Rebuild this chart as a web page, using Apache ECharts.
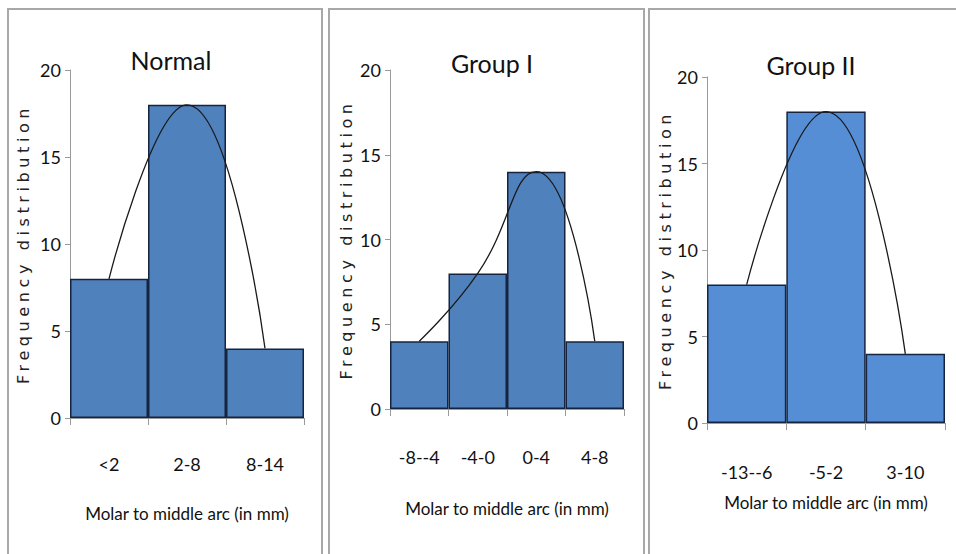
<!DOCTYPE html>
<html>
<head>
<meta charset="utf-8">
<script src="https://cdn.jsdelivr.net/npm/echarts@6/dist/echarts.min.js"></script>
<style>
html,body{margin:0;padding:0;background:#fff;}
#c{width:956px;height:554px;}
</style>
</head>
<body>
<div id="c"></div>
<script>
// ---- data ----
const panelTitles = ['Normal', 'Group I', 'Group II'];
const normalCats = ['<2', '2-8', '8-14'];
const normalVals = [8, 18, 4];
const group1Cats = ['-8--4', '-4-0', '0-4', '4-8'];
const group1Vals = [4, 8, 14, 4];
const group2Cats = ['-13--6', '-5-2', '3-10'];
const group2Vals = [8, 18, 4];
const yTicks = [0, 5, 10, 15, 20];
const xName = 'Molar to middle arc (in mm)';
const yName = 'Frequency distribution';

// ---- layout / style ----
const narrow = 'Lato, "Liberation Sans", Arial, sans-serif';
const grids = [
  {left: 70, top: 70, width: 234, height: 348},
  {left: 390, top: 70, width: 234, height: 339},
  {left: 707, top: 77, width: 238, height: 346}
];
const cats = [normalCats, group1Cats, group2Cats];
const vals = [normalVals, group1Vals, group2Vals];
const barColors = ['#4f81bd', '#4f81bd', '#558ed5'];
const titleX = [166, 487, 806];
const titleTop = [42, 45, 47];
const xLabelMargin = [37, 39, 40];
const xNameGap = [87, 91, 71];
const yNameGap = [39, 36, 31];

const option = {
  animation: false,
  backgroundColor: '#ffffff',
  title: panelTitles.map((t, i) => ({
    text: t, left: titleX[i], top: titleTop[i], textAlign: 'center',
    textStyle: {fontFamily: narrow, fontSize: 25, fontWeight: 'normal', color: '#111'}
  })),
  grid: grids,
  xAxis: cats.map((c, i) => ({
    type: 'category', gridIndex: i, data: c,
    axisLine: {lineStyle: {color: '#9a9a9a', width: 1}},
    axisTick: {show: true, length: 7, lineStyle: {color: '#9a9a9a'}},
    axisLabel: {color: '#111', fontFamily: narrow, fontSize: 18, margin: xLabelMargin[i]},
    name: xName, nameLocation: 'middle', nameGap: xNameGap[i],
    nameTextStyle: {color: '#111', fontFamily: narrow, fontSize: 17}
  })),
  yAxis: cats.map((c, i) => ({
    type: 'value', gridIndex: i, min: yTicks[0], max: yTicks[yTicks.length - 1], interval: 5,
    axisLine: {show: true, lineStyle: {color: '#9a9a9a', width: 1}},
    axisTick: {show: true, length: 5, lineStyle: {color: '#9a9a9a'}},
    splitLine: {show: false},
    axisLabel: {color: '#111', fontFamily: narrow, fontSize: 18, margin: 9},
    name: yName, nameLocation: 'middle', nameGap: yNameGap[i],
    nameTextStyle: {color: '#222', fontFamily: '"DejaVu Sans", Verdana, sans-serif', fontSize: 16}
  })),
  series: [].concat(
    vals.map((v, i) => ({
      type: 'bar', xAxisIndex: i, yAxisIndex: i, data: v,
      barCategoryGap: '0%',
      itemStyle: {color: barColors[i], borderColor: '#16243f', borderWidth: 1.5},
      z: 2
    })),
    vals.map((v, i) => ({
      type: 'line', xAxisIndex: i, yAxisIndex: i, data: v,
      smooth: 0.5, symbol: 'none',
      lineStyle: {color: '#1a1a1a', width: 1.3},
      z: 5
    }))
  ),
  graphic: [
    {type: 'rect', shape: {x: 8, y: 9, width: 314, height: 560}, style: {fill: 'none', stroke: '#a8a8a8', lineWidth: 2}, silent: true},
    {type: 'rect', shape: {x: 329, y: 9, width: 315, height: 560}, style: {fill: 'none', stroke: '#a8a8a8', lineWidth: 2}, silent: true},
    {type: 'rect', shape: {x: 649, y: 9, width: 320, height: 560}, style: {fill: 'none', stroke: '#a8a8a8', lineWidth: 2}, silent: true}
  ]
};

const chart = echarts.init(document.getElementById('c'), null, {renderer: 'svg'});
chart.setOption(option);

// widen letter spacing of the rotated y-axis titles (as in the original)
function spaceYNames() {
  document.querySelectorAll('#c svg text').forEach(t => {
    if (t.textContent === yName) {
      t.setAttribute('letter-spacing', '4.6');
      t.style.letterSpacing = '4.6px';
    }
  });
}
spaceYNames();
chart.on('finished', spaceYNames);
</script>
</body>
</html>
